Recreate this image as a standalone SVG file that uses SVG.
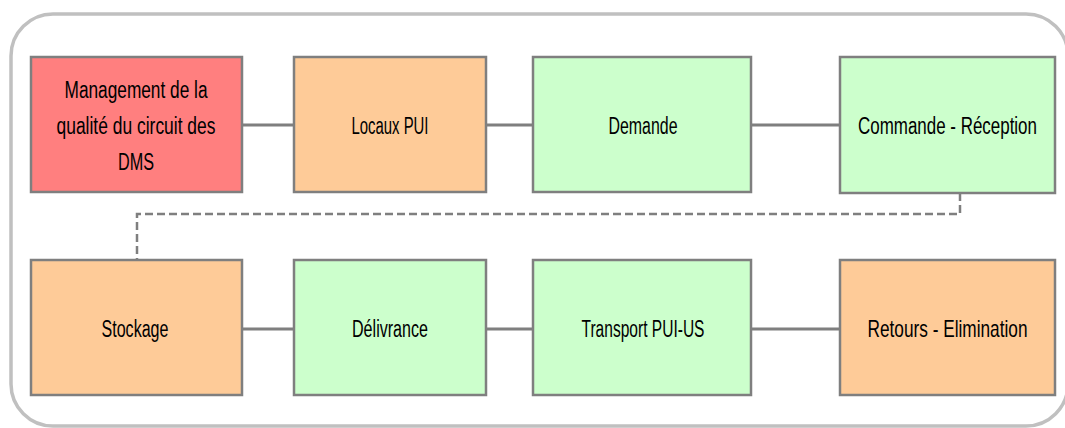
<svg xmlns="http://www.w3.org/2000/svg" width="1065" height="428" viewBox="0 0 1065 428">
<style>
.box{stroke:#7f7f7f;stroke-width:2.5}
.red{fill:#ff7f7f}
.org{fill:#fecb98}
.grn{fill:#ccffcc}
.lbl{font-family:"Liberation Sans",Arial,sans-serif;font-size:23px;fill:#000;text-anchor:middle}
.con{stroke:#7f7f7f;stroke-width:3;fill:none}
.dash{stroke:#7f7f7f;stroke-width:2.5;fill:none;stroke-dasharray:8 4}
</style>
<rect width="1065" height="428" fill="#ffffff"/>
<rect id="frame" x="11" y="14" width="1057" height="412" rx="42" ry="42" fill="none" stroke="#c0c0c0" stroke-width="3.5"/>
<g id="connectors">
<line class="con" x1="242" y1="125" x2="294" y2="125"/>
<line class="con" x1="486" y1="125" x2="533" y2="125"/>
<line class="con" x1="751" y1="125" x2="840" y2="125"/>
<line class="con" x1="242" y1="329" x2="294" y2="329"/>
<line class="con" x1="486" y1="329" x2="533" y2="329"/>
<line class="con" x1="751" y1="329" x2="840" y2="329"/>
<polyline class="dash" points="960,193 960,214 137,214 137,260"/>
</g>
<g id="n1">
<rect class="box red" x="31" y="57" width="211" height="135"/>
<text class="lbl" x="136" y="98" textLength="143" lengthAdjust="spacingAndGlyphs">Management de la</text>
<text class="lbl" x="136" y="134" textLength="159" lengthAdjust="spacingAndGlyphs">qualité du circuit des</text>
<text class="lbl" x="136" y="170" textLength="36" lengthAdjust="spacingAndGlyphs">DMS</text>
</g>
<g id="n2">
<rect class="box org" x="294" y="57" width="192" height="135"/>
<text class="lbl" x="390" y="134" textLength="77" lengthAdjust="spacingAndGlyphs">Locaux PUI</text>
</g>
<g id="n3">
<rect class="box grn" x="533" y="57" width="218" height="135"/>
<text class="lbl" x="643" y="134" textLength="69" lengthAdjust="spacingAndGlyphs">Demande</text>
</g>
<g id="n4">
<rect class="box grn" x="840" y="57" width="215" height="136"/>
<text class="lbl" transform="translate(947.5,134) scale(0.737,1)" x="0" y="0">Commande - Réception</text>
</g>
<g id="n5">
<rect class="box org" x="31" y="260" width="211" height="135"/>
<text class="lbl" x="135" y="337" textLength="67" lengthAdjust="spacingAndGlyphs">Stockage</text>
</g>
<g id="n6">
<rect class="box grn" x="294" y="260" width="192" height="135"/>
<text class="lbl" x="390" y="337" textLength="76" lengthAdjust="spacingAndGlyphs">Délivrance</text>
</g>
<g id="n7">
<rect class="box grn" x="533" y="260" width="218" height="135"/>
<text class="lbl" x="643" y="337" textLength="123" lengthAdjust="spacingAndGlyphs">Transport PUI-US</text>
</g>
<g id="n8">
<rect class="box org" x="840" y="260" width="215" height="135"/>
<text class="lbl" transform="translate(947.5,337) scale(0.75,1)" x="0" y="0">Retours - Elimination</text>
</g>
</svg>
